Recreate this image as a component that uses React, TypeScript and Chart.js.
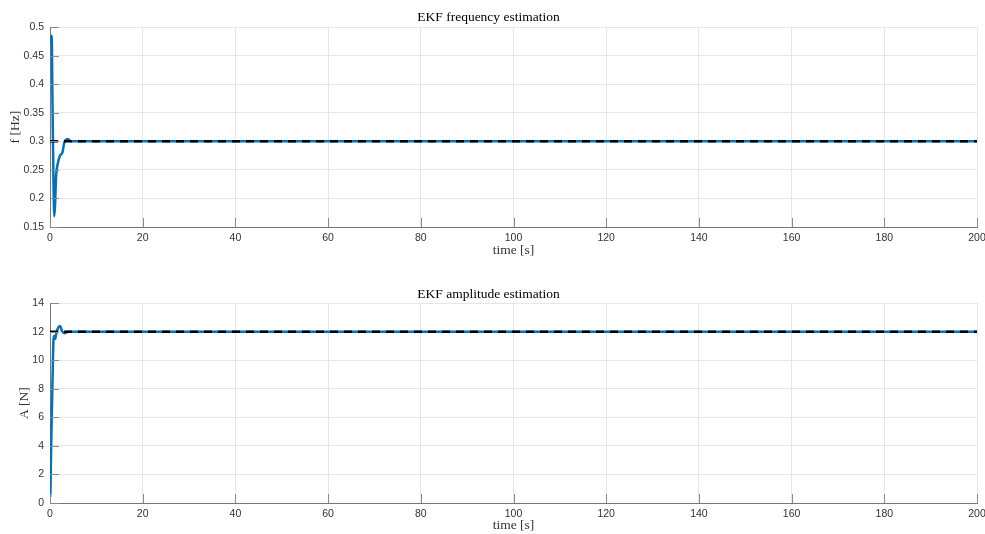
import React, { useEffect, useRef } from 'react';
import { Chart, registerables } from 'chart.js';

Chart.register(...registerables);

// ---- data ----
const freqTime = [0, 0.15, 0.35, 0.55, 0.75, 0.93, 1.1, 1.3, 1.65, 2.15, 2.7, 3.0, 3.3, 3.9, 4.5, 5.5, 200];
const freqEst = [0.475, 0.478, 0.485, 0.36, 0.23, 0.169, 0.19, 0.237, 0.26, 0.275, 0.281, 0.295, 0.302, 0.304, 0.3, 0.3, 0.3];
const freqTrue = 0.3;

const ampTime = [0, 0.05, 0.2, 0.36, 0.6, 0.8, 1.1, 1.3, 1.65, 2.2, 2.6, 3.2, 3.8, 5, 200];
const ampEst = [1.0, 0.4, 3.0, 5.8, 9.5, 11.7, 11.5, 11.8, 12.2, 12.4, 12.05, 11.9, 12.0, 12.0, 12.0];
const ampTrue = 12;

const xTicks = [0, 20, 40, 60, 80, 100, 120, 140, 160, 180, 200];
const freqTicks = [0.15, 0.2, 0.25, 0.3, 0.35, 0.4, 0.45, 0.5];
const ampTicks = [0, 2, 4, 6, 8, 10, 12, 14];

const panelTitles = ['EKF frequency estimation', 'EKF amplitude estimation'];
const yLabels = ['f [Hz]', 'A [N]'];
const xLabel = 'time [s]';

const BLUE = '#0072BD';
const TICK_FONT = { family: 'Liberation Sans, Arial, sans-serif', size: 10.5 };
const SERIF = { family: 'Liberation Serif, Times New Roman, serif', size: 13.5, weight: 'normal' as const };

const inwardTicks = {
  id: 'inwardTicks',
  afterDraw(chart: any) {
    const { ctx, chartArea, scales } = chart;
    ctx.save();
    ctx.strokeStyle = '#8a8a8a';
    ctx.lineWidth = 1;
    ctx.beginPath();
    scales.x.ticks.forEach((t: any) => {
      const px = Math.round(scales.x.getPixelForValue(t.value)) + 0.5;
      ctx.moveTo(px, chartArea.bottom);
      ctx.lineTo(px, chartArea.bottom - 9);
    });
    scales.y.ticks.forEach((t: any) => {
      const py = Math.round(scales.y.getPixelForValue(t.value)) + 0.5;
      ctx.moveTo(chartArea.left, py);
      ctx.lineTo(chartArea.left + 9, py);
    });
    ctx.stroke();
    ctx.restore();
  },
};

type PanelProps = {
  times: number[];
  est: number[];
  truth: number;
  yTicks: number[];
  title: string;
  yLabel: string;
  titlePad: { top: number; bottom: number };
  yTitlePad: number;
  xHeight: number;
  xTitlePad: number;
  height: number;
};

function Panel(p: PanelProps) {
  const ref = useRef<HTMLCanvasElement | null>(null);
  useEffect(() => {
    if (!ref.current) return;
    const estPts = p.times.map((t, i) => ({ x: t, y: p.est[i] }));
    const truePts = [{ x: 0, y: p.truth }, { x: 200, y: p.truth }];
    const yMin = p.yTicks[0];
    const yMax = p.yTicks[p.yTicks.length - 1];
    const chart = new Chart(ref.current, {
      type: 'line',
      data: {
        datasets: [
          {
            data: truePts,
            borderColor: '#000000',
            borderWidth: 2.5,
            borderDash: [8, 6],
            pointRadius: 0,
            order: 0,
          },
          {
            data: estPts,
            borderColor: BLUE,
            borderWidth: 2.5,
            pointRadius: 0,
            cubicInterpolationMode: 'monotone',
            order: 1,
          },
        ],
      },
      options: {
        animation: false,
        responsive: false,
        layout: { padding: { left: 0, right: 8, top: 0, bottom: 0 } },
        plugins: {
          legend: { display: false },
          tooltip: { enabled: false },
          title: {
            display: true,
            text: p.title,
            font: SERIF,
            color: '#000000',
            padding: p.titlePad,
          },
        },
        scales: {
          x: {
            type: 'linear',
            min: 0,
            max: 200,
            afterBuildTicks: (s: any) => {
              s.ticks = xTicks.map((v) => ({ value: v }));
            },
            ticks: { font: TICK_FONT, color: '#333333', padding: 5, maxRotation: 0, autoSkip: false },
            grid: { color: '#e6e6e6', lineWidth: 1, drawTicks: false },
            border: { color: '#777777', width: 1 },
            title: {
              display: true,
              text: xLabel,
              font: SERIF,
              color: '#333333',
              padding: { top: 0, bottom: p.xTitlePad },
            },
            afterFit: (s: any) => {
              s.height = p.xHeight;
              s.paddingLeft = 0;
              s.paddingRight = 0;
            },
          },
          y: {
            type: 'linear',
            min: yMin,
            max: yMax,
            afterBuildTicks: (s: any) => {
              s.ticks = p.yTicks.map((v) => ({ value: v }));
            },
            ticks: {
              font: TICK_FONT,
              color: '#333333',
              padding: 6,
              callback: (v: any) => String(+Number(v).toFixed(2)),
            },
            grid: { color: '#e6e6e6', lineWidth: 1, drawTicks: false },
            border: { color: '#777777', width: 1 },
            title: {
              display: true,
              text: p.yLabel,
              font: SERIF,
              color: '#333333',
              padding: { top: p.yTitlePad, bottom: 0 },
            },
            afterFit: (s: any) => {
              s.width = 50;
            },
          },
        },
      },
      plugins: [inwardTicks],
    });
    return () => chart.destroy();
  }, []);
  return <canvas ref={ref} width={985} height={p.height} style={{ display: 'block', width: 985, height: p.height }} />;
}

export default function App() {
  return (
    <div style={{ position: 'absolute', left: 0, top: 0, width: 985, height: 534, background: '#ffffff' }}>
      <div style={{ position: 'absolute', left: 0, top: 0 }}>
        <Panel
          times={freqTime}
          est={freqEst}
          truth={freqTrue}
          yTicks={freqTicks}
          title={panelTitles[0]}
          yLabel={yLabels[0]}
          titlePad={{ top: 9, bottom: 2 }}
          yTitlePad={7}
          xHeight={40}
          xTitlePad={8}
          height={267}
        />
      </div>
      <div style={{ position: 'absolute', left: 0, top: 267 }}>
        <Panel
          times={ampTime}
          est={ampEst}
          truth={ampTrue}
          yTicks={ampTicks}
          title={panelTitles[1]}
          yLabel={yLabels[1]}
          titlePad={{ top: 19, bottom: 1 }}
          yTitlePad={16}
          xHeight={31}
          xTitlePad={0}
          height={267}
        />
      </div>
    </div>
  );
}
